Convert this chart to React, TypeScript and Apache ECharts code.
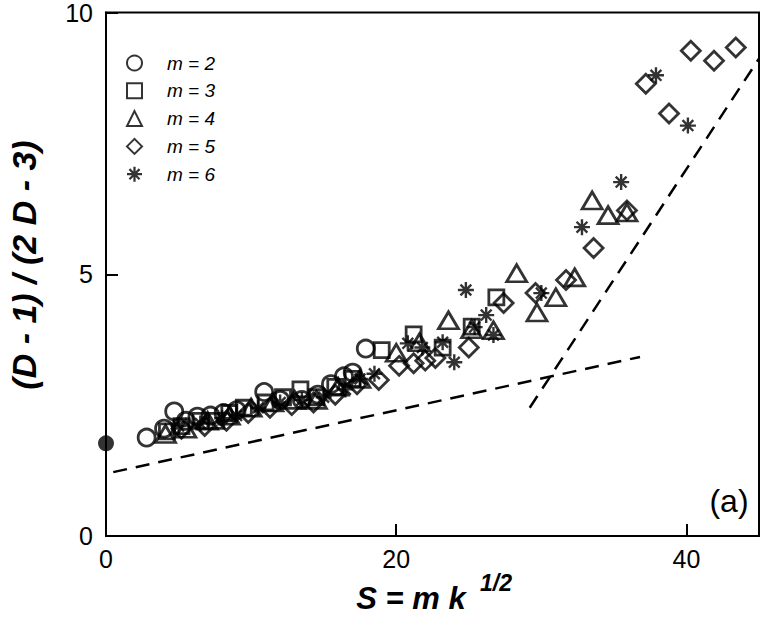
import React, { useEffect, useRef } from "react";
import * as echarts from "echarts";

// S = m k^(1/2), V = (D-1)/(2D-3)
const m2Points: number[][] = [
  [2.8, 1.88], [4.0, 2.05], [4.7, 2.38], [5.5, 2.2], [6.3, 2.28], [7.2, 2.3],
  [8.1, 2.35], [9.0, 2.4], [10.9, 2.75], [12.0, 2.6], [13.5, 2.6], [14.6, 2.7],
  [15.5, 2.9], [16.4, 3.05], [17.0, 3.12], [17.9, 3.58],
];
const m3Points: number[][] = [
  [4.2, 2.0], [5.2, 2.1], [6.5, 2.2], [7.6, 2.2], [8.5, 2.35], [9.5, 2.45],
  [11.0, 2.55], [12.2, 2.65], [13.4, 2.8], [14.5, 2.65], [15.8, 2.85], [17.0, 3.0],
  [19.0, 3.55], [21.2, 3.85], [23.2, 3.6], [25.2, 4.0], [26.9, 4.56],
];
const m4Points: number[][] = [
  [4.1, 1.95], [5.5, 2.05], [7.0, 2.2], [8.5, 2.3], [10.0, 2.45], [11.5, 2.55],
  [13.0, 2.6], [14.5, 2.6], [16.0, 2.85], [17.5, 3.0], [20.0, 3.5], [21.6, 3.7],
  [23.6, 4.12], [25.2, 3.95], [26.7, 3.93], [28.3, 5.02], [29.7, 4.27], [31.0, 4.56],
  [32.3, 4.94], [33.5, 6.41], [34.6, 6.13], [35.9, 6.18],
];
const m5Points: number[][] = [
  [5.2, 2.05], [6.8, 2.1], [8.3, 2.2], [9.8, 2.35], [11.3, 2.45], [12.8, 2.5],
  [14.3, 2.55], [15.8, 2.7], [17.3, 2.9], [18.8, 2.98], [20.2, 3.25], [21.2, 3.3],
  [22.0, 3.35], [22.7, 3.4], [25.0, 3.6], [27.4, 4.45], [29.6, 4.64], [31.7, 4.89],
  [33.6, 5.5], [35.9, 6.22], [37.2, 8.64], [38.8, 8.07], [40.3, 9.27], [41.9, 9.08],
  [43.4, 9.33],
];
const m6Points: number[][] = [
  [5.0, 2.1], [6.5, 2.15], [8.0, 2.25], [9.0, 2.3], [10.5, 2.45], [12.0, 2.55],
  [13.5, 2.6], [15.0, 2.65], [16.5, 2.8], [17.5, 3.0], [18.5, 3.1], [20.8, 3.68],
  [21.8, 3.6], [23.2, 3.7], [24.0, 3.32], [24.8, 4.7], [25.4, 3.99], [26.2, 4.22],
  [26.7, 3.84], [30.0, 4.64], [32.8, 5.9], [35.5, 6.76], [37.9, 8.8], [40.1, 7.84],
];
const originPoint: number[][] = [[0, 1.77]];

const lowFitS = [0.5, 36.8];
const lowFitV = [1.22, 3.42];
const highFitS = [29.2, 45];
const highFitV = [2.45, 9.12];

const seriesNames = ["m = 2", "m = 3", "m = 4", "m = 5", "m = 6"];
const xTicks = { min: 0, max: 45, interval: 20 };
const yTicks = { min: 0, max: 10, interval: 5 };

const FONT = "Liberation Sans, Arial, Helvetica, sans-serif";

const starPath =
  "path://M8.5 0 L11.5 0 L11.5 20 L8.5 20 Z M0 8.5 L20 8.5 L20 11.5 L0 11.5 Z " +
  "M2.2 4.3 L4.3 2.2 L17.8 15.7 L15.7 17.8 Z M15.7 2.2 L17.8 4.3 L4.3 17.8 L2.2 15.7 Z";

export default function App() {
  const ref = useRef<HTMLDivElement>(null);

  useEffect(() => {
    if (!ref.current) return;
    const chart = echarts.init(ref.current, null, { renderer: "svg", width: 764, height: 617 });

    const hollow = {
      color: "transparent",
      borderColor: "#000",
      borderWidth: 2.8,
    };

    const pair = (xs: number[], ys: number[]) => xs.map((x, i) => [x, ys[i]]);

    chart.setOption({
      animation: false,
      backgroundColor: "#fff",
      grid: {
        left: 106,
        right: 5,
        top: 11,
        bottom: 81,
        show: true,
        borderColor: "#000",
        borderWidth: 2,
        backgroundColor: "transparent",
      },
      legend: {
        orient: "vertical",
        left: 126,
        top: 53,
        padding: 0,
        itemWidth: 15,
        itemHeight: 15,
        itemGap: 7.8,
        data: seriesNames,
        textStyle: {
          fontFamily: FONT,
          fontSize: 19,
          fontStyle: "italic",
          color: "#000",
          lineHeight: 20,
          padding: [0, 0, 0, 20],
        },
      },
      xAxis: {
        type: "value",
        ...xTicks,
        axisLine: { show: true, lineStyle: { color: "#000", width: 2 } },
        axisTick: { show: true, inside: true, length: 12, lineStyle: { color: "#000", width: 2 } },
        axisLabel: { fontFamily: FONT, fontSize: 25, color: "#000", margin: 10, showMaxLabel: false },
        splitLine: { show: false },
      },
      yAxis: {
        type: "value",
        ...yTicks,
        axisLine: { show: true, lineStyle: { color: "#000", width: 2 } },
        axisTick: { show: true, inside: true, length: 12, lineStyle: { color: "#000", width: 2 } },
        axisLabel: { fontFamily: FONT, fontSize: 25, color: "#000", margin: 13 },
        splitLine: { show: false },
      },
      graphic: [
        {
          type: "text",
          x: 411,
          y: 598,
          style: {
            text: "S = m k",
            font: `italic bold 31px ${FONT}`,
            fill: "#000",
            textAlign: "center",
            textVerticalAlign: "middle",
          },
        },
        {
          type: "text",
          x: 480,
          y: 583,
          style: {
            text: "1/2",
            font: `italic bold 23px ${FONT}`,
            fill: "#000",
            textAlign: "left",
            textVerticalAlign: "middle",
          },
        },
        {
          type: "text",
          x: 24,
          y: 265,
          rotation: Math.PI / 2,
          style: {
            text: "(D - 1) / (2 D - 3)",
            font: `italic bold 34px ${FONT}`,
            fill: "#000",
            textAlign: "center",
            textVerticalAlign: "middle",
          },
        },
        {
          type: "text",
          x: 729,
          y: 501,
          style: {
            text: "(a)",
            font: `32px ${FONT}`,
            fill: "#000",
            textAlign: "center",
            textVerticalAlign: "middle",
          },
        },
      ],
      series: [
        {
          type: "line",
          data: pair(lowFitS, lowFitV),
          symbol: "none",
          lineStyle: { color: "#000", width: 2.5, type: [14, 9] },
          silent: true,
          z: 1,
        },
        {
          type: "line",
          data: pair(highFitS, highFitV),
          symbol: "none",
          lineStyle: { color: "#000", width: 2.5, type: [14, 9] },
          silent: true,
          z: 1,
        },
        {
          name: seriesNames[0],
          type: "scatter",
          data: m2Points,
          symbol: "circle",
          symbolSize: 17,
          itemStyle: hollow,
        },
        {
          name: seriesNames[1],
          type: "scatter",
          data: m3Points,
          symbol: "rect",
          symbolSize: 15,
          itemStyle: hollow,
        },
        {
          name: seriesNames[2],
          type: "scatter",
          data: m4Points,
          symbol: "triangle",
          symbolSize: [20, 17],
          itemStyle: hollow,
        },
        {
          name: seriesNames[3],
          type: "scatter",
          data: m5Points,
          symbol: "diamond",
          symbolSize: [19, 19],
          itemStyle: hollow,
        },
        {
          name: seriesNames[4],
          type: "scatter",
          data: m6Points,
          symbol: starPath,
          symbolSize: 16,
          itemStyle: { color: "#000", borderWidth: 0 },
        },
        {
          type: "scatter",
          data: originPoint,
          symbol: "circle",
          symbolSize: 16,
          itemStyle: { color: "#000" },
          clip: false,
        },
      ],
    });

    return () => chart.dispose();
  }, []);

  return (
    <div
      ref={ref}
      style={{ position: "fixed", left: 0, top: 0, width: 764, height: 617, background: "#fff" }}
    />
  );
}
